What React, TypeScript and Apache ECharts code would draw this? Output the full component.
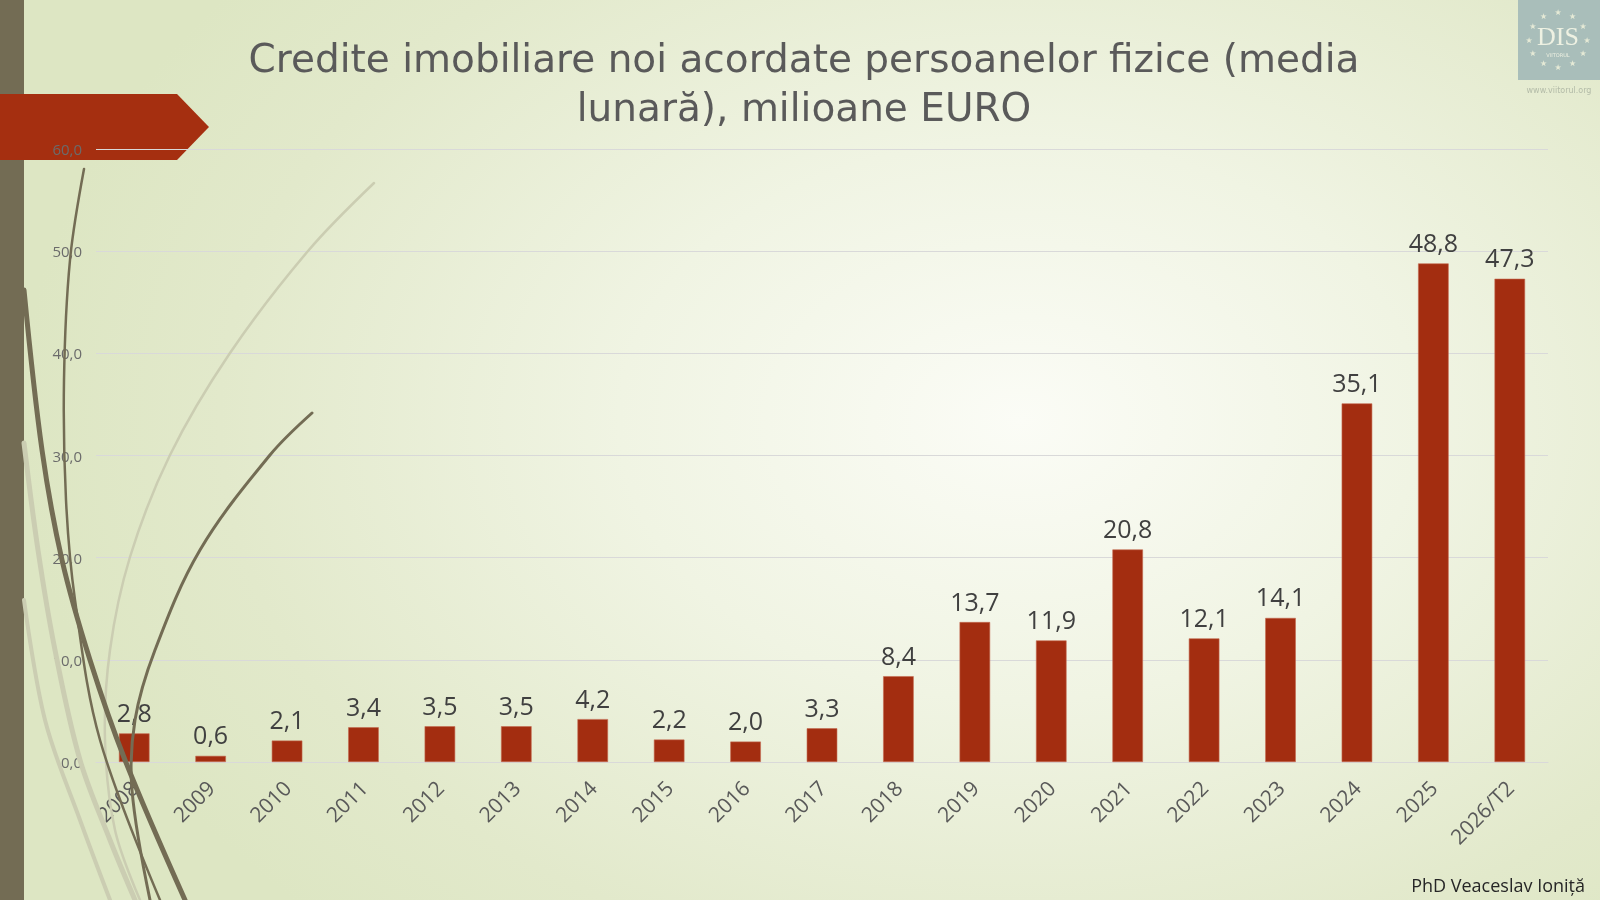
import React, { useEffect, useRef } from "react";
import * as echarts from "echarts";

const categories = ["2008","2009","2010","2011","2012","2013","2014","2015","2016","2017","2018","2019","2020","2021","2022","2023","2024","2025","2026/T2"];
const values = [2.8,0.6,2.1,3.4,3.5,3.5,4.2,2.2,2.0,3.3,8.4,13.7,11.9,20.8,12.1,14.1,35.1,48.8,47.3];
const titleLines = ["Credite imobiliare noi acordate persoanelor fizice (media", "lunară), milioane EURO"];
const authorText = "PhD Veaceslav Ioniță";

const FONT = "'Open Sans', 'DejaVu Sans', sans-serif";
const TITLE_FONT = "'DejaVu Sans', sans-serif";
const fmt = (v: number) => v.toFixed(1).replace(".", ",");

const DARK = "#736c54";
const LIGHT = "#cbcdb2";

function curve(points: number[][], stroke: string, lineWidth: number, z = 50) {
  return {
    type: "polyline",
    z,
    silent: true,
    shape: { points, smooth: 0.35 },
    style: { stroke, lineWidth, fill: null, lineCap: "round" },
  };
}

function stars() {
  const cx = 1558, cy = 40, r = 29;
  const out: any[] = [];
  for (let i = 0; i < 12; i++) {
    const a = (i / 12) * Math.PI * 2;
    out.push({
      type: "text",
      z: 60,
      silent: true,
      style: {
        x: cx + r * Math.cos(a),
        y: cy + r * Math.sin(a) * 0.95,
        text: "★",
        fill: "#e6ead6",
        fontSize: 8,
        align: "center",
        verticalAlign: "middle",
        fontFamily: "DejaVu Sans",
      },
    });
  }
  return out;
}

export default function App() {
  const ref = useRef<HTMLDivElement>(null);
  useEffect(() => {
    if (!ref.current) return;
    const chart = echarts.init(ref.current, null, { renderer: "svg" });
    const titleStyle = {
      fontFamily: TITLE_FONT,
      fontSize: 39,
      fontWeight: "normal",
      color: "#5a5a5a",
      lineHeight: 46,
    };
    chart.setOption({
      animation: false,
      backgroundColor: "transparent",
      title: [
        { text: titleLines[0], left: 804, textAlign: "center", top: 35, padding: 0, textStyle: titleStyle },
        { text: titleLines[1], left: 804, textAlign: "center", top: 84, padding: 0, textStyle: titleStyle },
      ],
      grid: { left: 96, right: 52, top: 149, bottom: 138, containLabel: false },
      xAxis: {
        type: "category",
        data: categories,
        axisTick: { show: false },
        axisLine: { show: true, lineStyle: { color: "#d9d9d9", width: 1 } },
        axisLabel: {
          rotate: 45,
          margin: 22,
          fontFamily: FONT,
          fontSize: 21,
          color: "#595959",
          interval: 0,
        },
      },
      yAxis: {
        type: "value",
        min: 0,
        max: 60,
        interval: 10,
        axisLine: { show: false },
        axisTick: { show: false },
        splitLine: { lineStyle: { color: "#d9d9d9", width: 1 } },
        axisLabel: {
          margin: 14,
          fontFamily: FONT,
          fontSize: 15,
          color: "#6b6b6b",
          formatter: (v: number) => fmt(v),
        },
      },
      series: [
        {
          type: "bar",
          data: values,
          barWidth: "40%",
          itemStyle: { color: "#a32d10", borderColor: "#c46a50", borderWidth: 0.6 },
          label: {
            show: true,
            position: "top",
            distance: 9,
            fontFamily: FONT,
            fontSize: 25,
            color: "#404040",
            formatter: (p: any) => fmt(p.value),
          },
        },
      ],
      graphic: [
        { type: "rect", z: -5, silent: true, shape: { x: 0, y: 0, width: 24, height: 900 }, style: { fill: "#736c54" } },
        {
          type: "polygon",
          z: -4,
          silent: true,
          shape: { points: [[0, 94], [177, 94], [209, 127], [177, 160], [0, 160]] },
          style: { fill: "#a52f10" },
        },
        curve([[374, 183], [308, 251], [230, 353], [170, 455], [130, 557], [110, 650], [105, 740], [115, 830], [140, 900]], LIGHT, 2.5),
        curve([[24, 443], [38, 550], [55, 650], [80, 760], [110, 840], [135, 900]], LIGHT, 5),
        curve([[24, 600], [45, 720], [80, 820], [110, 900]], LIGHT, 4),
        curve([[84, 169], [70, 260], [64, 380], [66, 500], [75, 600], [100, 740], [160, 900]], DARK, 2.5),
        curve([[24, 290], [42, 450], [62, 560], [90, 660], [125, 760], [185, 900]], DARK, 5),
        curve([[312, 413], [270, 455], [200, 550], [155, 650], [135, 720], [132, 790], [150, 900]], DARK, 3),
        { type: "rect", z: 55, silent: true, shape: { x: 1518, y: 0, width: 82, height: 80 }, style: { fill: "#a9beba" } },
        ...stars(),
        {
          type: "text",
          z: 60,
          silent: true,
          style: {
            x: 1558, y: 36, text: "DIS", fill: "#eef1e2", fontSize: 26,
            fontFamily: "'Liberation Serif', serif", align: "center", verticalAlign: "middle",
          },
        },
        {
          type: "text",
          z: 60,
          silent: true,
          style: {
            x: 1558, y: 55, text: "VIITORUL", fill: "#eef1e2", fontSize: 5,
            fontFamily: "DejaVu Sans", align: "center", verticalAlign: "middle",
          },
        },
        {
          type: "text",
          z: 60,
          silent: true,
          style: {
            x: 1559, y: 90, text: "www.viitorul.org", fill: "#b3bba8", fontSize: 8,
            fontFamily: "DejaVu Sans", align: "center", verticalAlign: "middle",
          },
        },
        {
          type: "text",
          z: 60,
          silent: true,
          style: {
            x: 1585, y: 885, text: authorText, fill: "#262626", fontSize: 18,
            fontFamily: FONT, align: "right", verticalAlign: "middle",
          },
        },
      ],
    });
    return () => chart.dispose();
  }, []);
  return (
    <div
      style={{
        position: "fixed",
        left: 0,
        top: 0,
        width: 1600,
        height: 900,
        background:
          "radial-gradient(ellipse 1000px 700px at 1020px 420px, #fbfcf6 0%, #f0f4e3 40%, #e2e9cb 80%, #dde6c3 100%)",
      }}
    >
      <div ref={ref} style={{ width: 1600, height: 900 }} />
    </div>
  );
}
